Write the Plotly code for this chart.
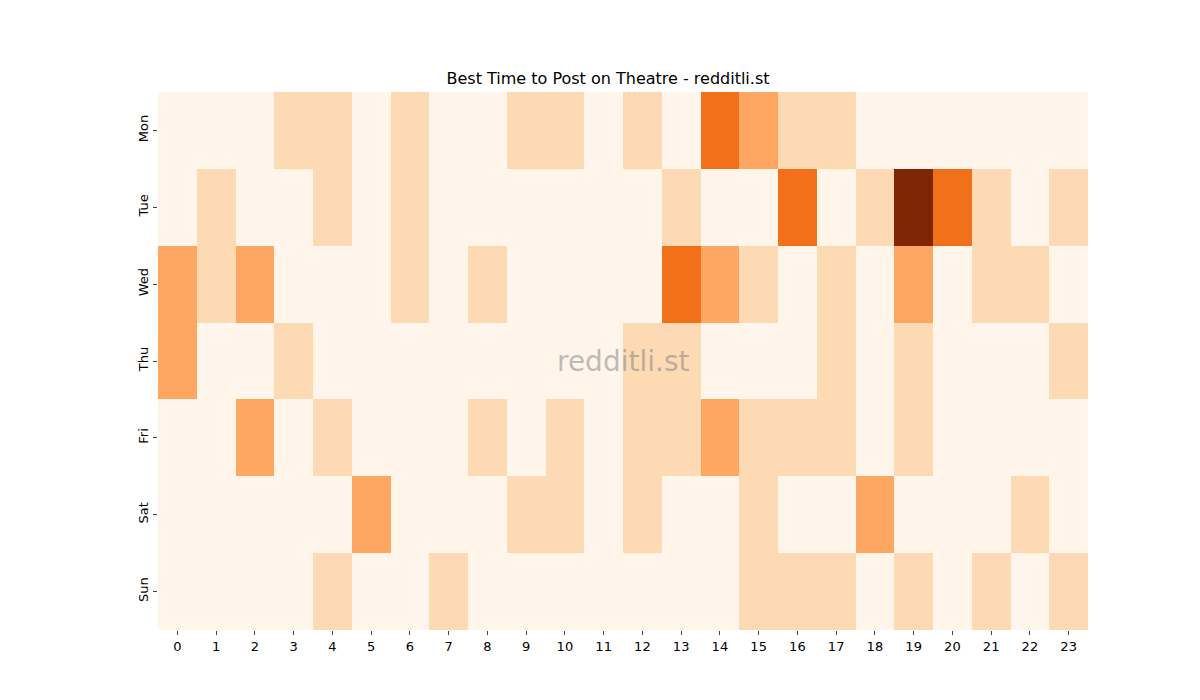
import plotly.graph_objects as go

days = ["Mon", "Tue", "Wed", "Thu", "Fri", "Sat", "Sun"]
hours = [str(h) for h in range(24)]
levels = [
    [0,0,0,1,1,0,1,0,0,1,1,0,1,0,3,2,1,1,0,0,0,0,0,0],
    [0,1,0,0,1,0,1,0,0,0,0,0,0,1,0,0,3,0,1,4,3,1,0,1],
    [2,1,2,0,0,0,1,0,1,0,0,0,0,3,2,1,0,1,0,2,0,1,1,0],
    [2,0,0,1,0,0,0,0,0,0,0,0,1,1,0,0,0,1,0,1,0,0,0,1],
    [0,0,2,0,1,0,0,0,1,0,1,0,1,1,2,1,1,1,0,1,0,0,0,0],
    [0,0,0,0,0,2,0,0,0,1,1,0,1,0,0,1,0,0,2,0,0,0,1,0],
    [0,0,0,0,1,0,0,1,0,0,0,0,0,0,0,1,1,1,0,1,0,1,0,1],
]
cs = [[0, "#fff5eb"], [0.25, "#fdd9b4"], [0.5, "#fda762"], [0.75, "#f3701b"], [1, "#7f2704"]]

fig = go.Figure(go.Heatmap(z=levels, x=hours, y=days, colorscale=cs, zmin=0, zmax=4,
                           showscale=False, hoverinfo="skip"))
fig.update_layout(
    width=1200, height=700, plot_bgcolor="white", paper_bgcolor="white",
    margin=dict(l=150, r=120, t=84, b=78),
    font=dict(family="DejaVu Sans", size=13, color="black"),
    title=dict(text="Best Time to Post on Theatre - redditli.st", x=0.5, xanchor="center",
               y=1 - 70/700, yanchor="middle", font=dict(size=16)),
    annotations=[dict(text="redditli.st", x=0.5, y=0.5, xref="paper", yref="paper",
                      showarrow=False, font=dict(size=28, color="rgba(128,128,128,0.5)"))],
)
fig.update_xaxes(ticks="outside", ticklen=4, showgrid=False, tickangle=0)
fig.update_yaxes(ticks="outside", ticklen=4, showgrid=False, autorange="reversed", tickangle=-90)
fig.write_html("out.html")
